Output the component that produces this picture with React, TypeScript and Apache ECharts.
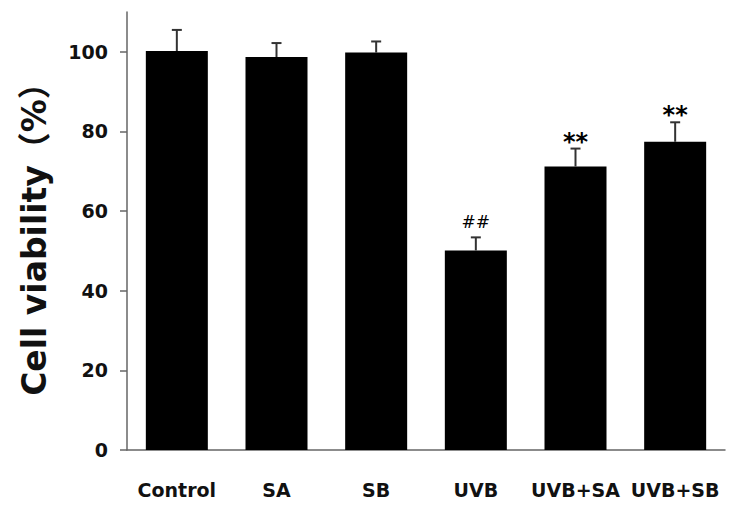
import React, { useEffect, useRef } from "react";
import * as echarts from "echarts";

const categories = ["Control", "SA", "SB", "UVB", "UVB+SA", "UVB+SB"];
const means = [100.2, 98.7, 99.8, 50.1, 71.2, 77.4];
const errors = [5.3, 3.5, 2.8, 3.3, 4.5, 4.9];
const marks = ["", "", "", "##", "**", "**"];
const yTicks = [0, 20, 40, 60, 80, 100];
const yMax = 110;
const yName = "Cell viability（%）";

const FONT = "'DejaVu Sans', 'Noto Sans CJK SC', sans-serif";

export default function App() {
  const ref = useRef<HTMLDivElement>(null);
  useEffect(() => {
    document.body.style.margin = "0";
    if (!ref.current) return;
    const chart = echarts.init(ref.current, null, { renderer: "svg" });
    chart.setOption({
      animation: false,
      backgroundColor: "#ffffff",
      grid: { left: 127, right: 17, top: 12, bottom: 59 },
      xAxis: {
        type: "category",
        data: categories,
        axisLine: { lineStyle: { color: "#666", width: 1.5 } },
        axisTick: { alignWithLabel: true, length: 8, lineStyle: { color: "#666", width: 1.5 } },
        axisLabel: {
          color: "#111",
          fontFamily: FONT,
          fontWeight: "bold",
          fontSize: 19,
          margin: 30,
          interval: 0,
        },
      },
      yAxis: {
        type: "value",
        min: 0,
        max: yMax,
        interval: 20,
        name: yName,
        nameLocation: "middle",
        nameGap: 76,
        nameTextStyle: {
          color: "#111",
          fontFamily: FONT,
          fontWeight: "bold",
          fontSize: 33,
        },
        splitLine: { show: false },
        axisLine: { show: true, lineStyle: { color: "#666", width: 1.5 } },
        axisTick: { show: true, length: 7, customValues: yTicks, lineStyle: { color: "#666", width: 1.5 } },
        axisLabel: {
          customValues: yTicks,
          color: "#111",
          fontFamily: FONT,
          fontWeight: "bold",
          fontSize: 19,
          margin: 19,
        },
      },
      series: [
        {
          type: "bar",
          data: means,
          barWidth: 62,
          itemStyle: { color: "#000" },
          z: 2,
        },
        {
          type: "custom",
          z: 3,
          data: categories.map((c, i) => [i, means[i], errors[i]]),
          renderItem: (params: any, api: any) => {
            const idx = api.value(0);
            const m = api.value(1);
            const e = api.value(2);
            const base = api.coord([idx, m]);
            const top = api.coord([idx, m + e]);
            const mark = marks[idx];
            const children: any[] = [
              {
                type: "line",
                shape: { x1: base[0], y1: base[1], x2: top[0], y2: top[1] },
                style: { stroke: "#333", lineWidth: 2 },
              },
              {
                type: "line",
                shape: { x1: top[0] - 5, y1: top[1], x2: top[0] + 5, y2: top[1] },
                style: { stroke: "#333", lineWidth: 2 },
              },
            ];
            if (mark) {
              const isStar = mark.indexOf("*") >= 0;
              children.push({
                type: "text",
                style: {
                  text: mark,
                  x: top[0],
                  y: top[1] - (isStar ? 7 : 15),
                  align: "center",
                  verticalAlign: "middle",
                  fontFamily: FONT,
                  fontWeight: isStar ? "bold" : "normal",
                  fontSize: isStar ? 24 : 17,
                  fill: "#000",
                },
              });
            }
            return { type: "group", children };
          },
        },
      ],
    });
    return () => chart.dispose();
  }, []);
  return <div ref={ref} style={{ width: 742, height: 509 }} />;
}
